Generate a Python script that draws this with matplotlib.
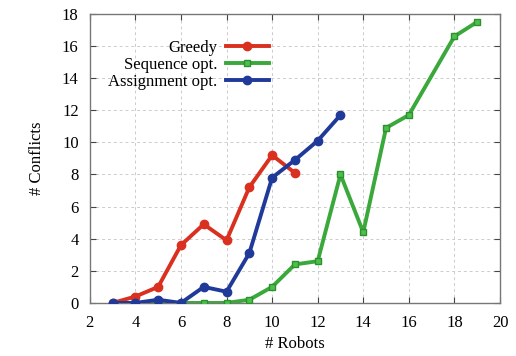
import matplotlib
matplotlib.use("Agg")
import matplotlib.pyplot as plt

plt.rcParams['font.family'] = ['Liberation Serif', 'DejaVu Serif']

greedy_x = [3, 4, 5, 6, 7, 8, 9, 10, 11]
greedy_y = [0, 0.4, 1.0, 3.6, 4.9, 3.9, 7.2, 9.2, 8.1]
seq_x = [3, 4, 5, 6, 7, 8, 9, 10, 11, 12, 13, 14, 15, 16, 18, 19]
seq_y = [0, 0, 0, 0, 0, 0, 0.2, 1.0, 2.4, 2.6, 8.0, 4.4, 10.9, 11.7, 16.6, 17.5]
assign_x = [3, 4, 5, 6, 7, 8, 9, 10, 11, 12, 13]
assign_y = [0, 0, 0.2, 0, 1.0, 0.7, 3.1, 7.8, 8.9, 10.1, 11.7]

fig = plt.figure(figsize=(5.16, 3.56), dpi=100)
ax = fig.add_axes([0.174, 0.149, 0.795, 0.812])

ax.plot(seq_x, seq_y, '-s', color='#3aa83a', lw=2.8, ms=5, mfc='#4cc04c', mec='#2e8f2e', label='Sequence opt.', zorder=3)
ax.plot(greedy_x, greedy_y, '-o', color='#d93020', lw=2.8, ms=6, mec='#d93020', label='Greedy', zorder=4)
ax.plot(assign_x, assign_y, '-o', color='#203a9a', lw=2.8, ms=6, mec='#203a9a', label='Assignment opt.', zorder=5)

ax.set_xlim(2, 20)
ax.set_ylim(0, 18)
ax.set_xticks(range(2, 21, 2))
ax.set_yticks(range(0, 19, 2))
ax.grid(True, ls=(0, (3, 3)), color='#cccccc', lw=0.7)
ax.tick_params(direction='in', top=True, right=True, labelsize=12, length=4, color='#444444')
ax.tick_params(axis='x', pad=9)
ax.tick_params(axis='y', pad=8)
for s in ax.spines.values():
    s.set_color('#777777')
    s.set_linewidth(1.0)
ax.set_xlabel('# Robots', fontsize=12, labelpad=3)
ax.set_ylabel('# Conflicts', fontsize=12, labelpad=12)

h, l = ax.get_legend_handles_labels()
order = [1, 0, 2]
ax.legend([h[i] for i in order], [l[i] for i in order], loc='upper right',
          bbox_to_anchor=(0.465, 0.95), frameon=False, markerfirst=False,
          fontsize=12, handlelength=2.6, labelspacing=0.05, borderpad=0.2,
          handletextpad=0.5)

fig.savefig('out.png', dpi=100)
